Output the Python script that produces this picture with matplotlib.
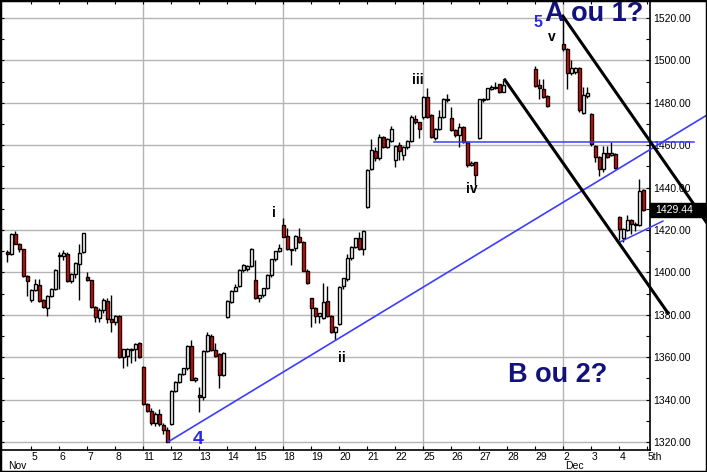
import numpy as np
import matplotlib.pyplot as plt
from matplotlib.patches import Rectangle
from matplotlib.transforms import blended_transform_factory

# %%
# Hourly candles, 7 slots per trading day (Nov 4 = day 0, Nov 28 holiday kept empty)
bar_idx = [1, 2, 3, 4, 5, 6,
           7, 8, 9, 10, 11, 12, 13,
           14, 15, 16, 17, 18, 19, 20,
           21, 22, 23, 24, 25, 26, 27,
           28, 29, 30, 31, 32, 33, 34,
           35, 36, 37, 38, 39, 40, 41,
           42, 43, 44, 45, 46, 47, 48,
           49, 50, 51, 52, 53, 54, 55,
           56, 57, 58, 59, 60, 61, 62,
           63, 64, 65, 66, 67, 68, 69,
           70, 71, 72, 73, 74, 75, 76,
           77, 78, 79, 80, 81, 82, 83,
           84, 85, 86, 87, 88, 89, 90,
           91, 92, 93, 94, 95, 96, 97,
           98, 99, 100, 101, 102, 103, 104,
           105, 106, 107, 108, 109, 110, 111,
           112, 113, 114, 115, 116, 117, 118,
           119, 120, 121, 122, 123, 124, 125,
           133, 134, 135, 136,
           140, 141, 142, 143, 144, 145, 146,
           147, 148, 149, 150, 151, 152, 153,
           154, 155, 156, 157, 158, 159, 160]
opens = [1409.8, 1408.5, 1417.9, 1413.6, 1410.8, 1398.3,
         1387.0, 1391.7, 1393.9, 1387.0, 1383.0, 1389.0, 1392.0,
         1407.6, 1407.8, 1408.7, 1396.0, 1399.2, 1404.0, 1409.5,
         1397.7, 1396.2, 1383.5, 1378.3, 1382.3, 1386.7, 1377.9,
         1376.8, 1379.6, 1360.3, 1360.5, 1363.5, 1363.9, 1366.5,
         1355.5, 1337.9, 1334.8, 1328.8, 1333.0, 1328.2, 1325.7,
         1328.5, 1344.1, 1348.5, 1352.1, 1354.7, 1365.4, 1349.2,
         1342.2, 1341.4, 1362.9, 1370.0, 1363.4, 1361.5, 1351.6,
         1378.8, 1386.2, 1391.4, 1393.6, 1401.0, 1401.5, 1403.0,
         1396.4, 1387.8, 1389.2, 1392.5, 1398.8, 1406.2, 1410.0,
         1422.4, 1417.2, 1410.6, 1411.4, 1416.5, 1414.2, 1400.8,
         1387.7, 1383.4, 1379.6, 1378.6, 1386.7, 1379.6, 1372.0,
         1375.5, 1393.6, 1396.7, 1406.6, 1412.1, 1416.0, 1410.9,
         1431.0, 1449.0, 1457.4, 1453.8, 1464.0, 1459.0, 1462.0,
         1453.0, 1460.1, 1455.5, 1459.0, 1462.0, 1472.4, 1470.8,
         1473.1, 1482.6, 1474.2, 1463.2, 1467.6, 1473.5, 1481.3,
         1472.7, 1467.2, 1464.8, 1468.7, 1461.7, 1450.7, 1451.9,
         1463.2, 1481.3, 1482.0, 1486.5, 1487.0, 1488.7, 1485.3,
         1495.8, 1488.4, 1486.5, 1483.2,
         1507.6, 1505.2, 1494.2, 1494.7, 1496.3, 1475.3, 1483.0,
         1474.6, 1459.8, 1454.3, 1448.8, 1456.5, 1455.5, 1455.8,
         1426.3, 1416.1, 1420.0, 1424.7, 1422.5, 1422.4, 1438.9]
highs = [1410.5, 1418.4, 1419.7, 1414.0, 1411.2, 1398.6,
         1392.3, 1396.9, 1396.9, 1387.5, 1389.5, 1392.5, 1401.5,
         1409.5, 1410.5, 1409.5, 1399.5, 1405.0, 1413.6, 1418.7,
         1400.1, 1396.5, 1384.0, 1383.0, 1387.8, 1388.0, 1389.3,
         1380.0, 1380.0, 1362.5, 1364.5, 1364.5, 1366.5, 1367.0,
         1356.0, 1338.5, 1336.0, 1334.0, 1335.5, 1329.0, 1327.0,
         1344.5, 1348.8, 1352.5, 1355.0, 1365.8, 1368.1, 1350.5,
         1346.1, 1363.4, 1372.0, 1371.0, 1366.5, 1362.0, 1362.2,
         1386.8, 1391.8, 1394.5, 1401.5, 1404.0, 1403.5, 1411.5,
         1405.8, 1389.5, 1392.8, 1399.0, 1406.5, 1410.3, 1413.2,
         1425.5, 1421.0, 1411.0, 1417.8, 1420.8, 1414.8, 1401.5,
         1387.8, 1383.6, 1380.8, 1394.8, 1393.6, 1380.0, 1374.8,
         1393.6, 1397.5, 1408.7, 1412.4, 1416.3, 1419.2, 1419.8,
         1448.8, 1462.9, 1459.3, 1465.3, 1464.5, 1463.5, 1469.0,
         1460.0, 1461.6, 1459.5, 1462.5, 1474.2, 1474.2, 1471.0,
         1483.0, 1486.8, 1474.5, 1468.0, 1476.6, 1482.2, 1484.0,
         1478.2, 1467.5, 1470.6, 1469.0, 1462.0, 1452.5, 1452.3,
         1482.0, 1482.3, 1487.0, 1488.2, 1490.0, 1489.0, 1490.8,
         1497.5, 1491.2, 1491.2, 1483.5,
         1521.0, 1505.7, 1500.2, 1497.0, 1497.0, 1487.3, 1487.3,
         1475.0, 1460.3, 1455.0, 1459.5, 1459.5, 1461.4, 1456.5,
         1426.8, 1421.0, 1427.3, 1425.2, 1424.0, 1444.0, 1439.3]
lows = [1404.7, 1408.0, 1413.2, 1409.5, 1398.0, 1389.0,
        1386.2, 1391.0, 1386.0, 1383.0, 1379.6, 1388.5, 1391.5,
        1392.0, 1406.0, 1395.5, 1395.0, 1397.2, 1387.0, 1409.0,
        1396.0, 1383.3, 1376.8, 1376.8, 1381.0, 1376.0, 1371.7,
        1375.0, 1359.5, 1354.7, 1356.0, 1357.1, 1358.0, 1359.6,
        1337.5, 1334.0, 1328.0, 1327.5, 1327.5, 1323.9, 1320.0,
        1328.0, 1343.5, 1348.0, 1351.5, 1354.0, 1349.0, 1348.5,
        1334.3, 1339.8, 1362.4, 1363.0, 1360.0, 1345.6, 1351.0,
        1378.3, 1385.5, 1391.0, 1393.0, 1400.0, 1400.5, 1402.5,
        1387.5, 1386.2, 1388.5, 1392.0, 1398.0, 1405.5, 1409.5,
        1416.5, 1410.5, 1403.5, 1410.0, 1414.0, 1400.5, 1394.5,
        1374.4, 1376.0, 1376.0, 1378.0, 1379.0, 1371.3, 1368.1,
        1375.0, 1392.0, 1396.0, 1406.0, 1411.5, 1410.5, 1408.2,
        1430.5, 1448.5, 1452.5, 1453.0, 1458.5, 1458.5, 1461.5,
        1449.9, 1453.0, 1453.0, 1458.0, 1461.5, 1470.0, 1463.2,
        1472.5, 1473.0, 1463.5, 1462.4, 1467.0, 1473.0, 1480.5,
        1466.5, 1464.0, 1459.0, 1461.0, 1449.9, 1450.0, 1441.2,
        1462.7, 1480.5, 1481.5, 1486.0, 1486.5, 1484.8, 1485.0,
        1487.5, 1481.9, 1482.5, 1478.2,
        1504.5, 1486.4, 1493.0, 1493.5, 1475.5, 1474.8, 1482.5,
        1459.8, 1452.0, 1445.5, 1447.5, 1454.0, 1455.0, 1448.6,
        1415.3, 1414.5, 1419.5, 1418.0, 1419.5, 1422.0, 1429.0]
closes = [1408.7, 1417.9, 1413.6, 1410.8, 1398.4, 1395.8,
          1391.7, 1394.4, 1386.5, 1383.5, 1389.0, 1392.0, 1401.1,
          1408.0, 1409.2, 1396.0, 1399.2, 1404.6, 1409.3, 1418.4,
          1396.2, 1383.5, 1379.1, 1382.3, 1387.0, 1378.0, 1376.6,
          1379.6, 1360.3, 1363.9, 1363.9, 1363.9, 1366.2, 1359.9,
          1337.9, 1334.8, 1328.8, 1333.0, 1328.5, 1325.7, 1320.2,
          1344.1, 1348.5, 1352.1, 1354.7, 1365.4, 1349.2, 1350.0,
          1341.1, 1362.9, 1370.5, 1363.4, 1360.6, 1351.6, 1361.8,
          1386.5, 1391.4, 1393.3, 1401.1, 1403.3, 1403.0, 1410.9,
          1387.8, 1389.2, 1392.5, 1398.8, 1406.2, 1410.1, 1411.3,
          1416.9, 1410.9, 1410.9, 1417.2, 1414.5, 1400.8, 1394.8,
          1383.4, 1379.6, 1380.7, 1386.2, 1379.6, 1372.0, 1374.4,
          1393.3, 1397.2, 1406.6, 1412.1, 1416.0, 1410.9, 1419.5,
          1448.3, 1457.7, 1453.8, 1464.0, 1459.0, 1463.0, 1467.6,
          1459.6, 1457.4, 1459.0, 1462.0, 1473.1, 1470.8, 1467.5,
          1482.6, 1473.5, 1464.0, 1467.6, 1473.5, 1481.8, 1481.8,
          1467.2, 1464.8, 1468.7, 1461.7, 1450.7, 1451.5, 1445.9,
          1481.6, 1481.8, 1486.8, 1487.3, 1487.6, 1485.3, 1488.4,
          1488.1, 1486.8, 1482.9, 1478.6,
          1505.2, 1494.2, 1496.6, 1496.6, 1476.6, 1483.6, 1484.4,
          1460.4, 1454.3, 1448.8, 1456.2, 1454.6, 1456.5, 1449.1,
          1420.3, 1420.3, 1424.7, 1422.8, 1423.0, 1438.4, 1429.44]

day_labels = ['5', '6', '7', '8', '11', '12', '13', '14', '15', '18', '19', '20',
              '21', '22', '25', '26', '27', '28', '29', '2', '3', '4', '5th']
monday_days = [5, 10, 15, 20]   # Nov 11, Nov 18, Nov 25, Dec 2 (day slots)
last_price = 1429.44

# hand drawn analysis lines (x in bar units, y in price)
trend_x, trend_y = [41.25, 175.9], [1320.1, 1474.2]
neck_x, neck_y = [107.6, 172.7], [1461.4, 1461.4]
base_x, base_y = [153.7, 164.9], [1413.9, 1424.2]
chan1_x, chan1_y = [125.4, 166.1], [1490.8, 1381.0]
chan2_x, chan2_y = [139.9, 175.9], [1520.9, 1423.3]

# wave labels: (text, x, y)
wave_black = [('i', 67.7, 1426.3), ('ii', 84.7, 1357.9), ('iii', 103.7, 1488.9),
              ('iv', 117.1, 1437.6), ('v', 137.05, 1509.2)]
wave_blue = [('4', 48.7, 1318.9, 14), ('5', 133.55, 1515.8, 11.5)]

# %%
plt.rcParams['font.family'] = ['Liberation Sans', 'DejaVu Sans']
fig = plt.figure(figsize=(7.07, 4.72), dpi=100)
ax = fig.add_axes([0, 22 / 472, 650 / 707, 450 / 472])
ax.set_xlim(-0.825, 161.675)
ax.set_ylim(1316.2, 1528.5)

x = np.array(bar_idx, dtype=float)
o = np.array(opens)
c = np.array(closes)
down = c < o
cols = np.where(down, '#ff0000', '#ffffff')
ax.vlines(x, lows, highs, color='k', lw=1.0, zorder=2)
ax.bar(x, np.maximum(np.abs(c - o), 0.4), bottom=np.minimum(o, c), width=0.85,
       color=cols, edgecolor='k', linewidth=1.0, zorder=3)

# grid
for v in range(1320, 1521, 20):
    ax.axhline(v, color='#b4b4b4', lw=1, zorder=0)
for d in monday_days:
    ax.axvline(d * 7, color='#b4b4b4', lw=1, zorder=0)

# axes / ticks
ax.set_xticks([7 * k for k in range(1, 24)], day_labels)
for lbl in ax.get_xticklabels():
    lbl.set_horizontalalignment('left')
ax.set_yticks(range(1320, 1521, 20), [f'{v:.2f}' for v in range(1320, 1521, 20)])
ax.set_yticks(range(1320, 1521, 10), minor=True)
ax.yaxis.tick_right()
ax.tick_params(axis='both', which='both', direction='in', labelsize=7.5,
               top=True, left=True, right=True, bottom=True, length=3, width=0.8)
ax.tick_params(axis='y', which='major', pad=2)
ax.tick_params(axis='x', pad=1.5)
for s in ax.spines.values():
    s.set_linewidth(1.2)

btr = blended_transform_factory(ax.transData, ax.transAxes)
ax.text(1.2, -0.036, 'Nov', transform=btr, fontsize=7.5, va='center', ha='left')
ax.text(140.4, -0.036, 'Dec', transform=btr, fontsize=7.5, va='center', ha='left')

# analysis lines
ax.plot(trend_x, trend_y, color='#3c3cff', lw=1.2, clip_on=False, zorder=5)
ax.plot(neck_x, neck_y, color='#3c3cff', lw=1.1, clip_on=False, zorder=5)
ax.plot(base_x, base_y, color='#3c3cff', lw=1.1, clip_on=False, zorder=5)
ax.plot(chan1_x, chan1_y, color='k', lw=2.2, clip_on=False, zorder=5)
ax.plot(chan2_x, chan2_y, color='k', lw=2.2, clip_on=False, zorder=5)

for t, tx, ty in wave_black:
    ax.text(tx, ty, t, fontsize=10, weight='bold', color='k', ha='center', va='baseline', zorder=6)
for t, tx, ty, fs in wave_blue:
    ax.text(tx, ty, t, fontsize=fs, weight='bold', color='#2828e6', ha='center', va='baseline', zorder=6)

ax.text(135.4, 1518.5, 'A ou 1?', fontsize=19.5, weight='bold', color='#12127a', va='baseline', zorder=6)
ax.text(126.2, 1348.4, 'B ou 2?', fontsize=19.5, weight='bold', color='#12127a', va='baseline', zorder=6)

# last price box
ftr = blended_transform_factory(fig.transFigure, ax.transData)
fig.patches.append(Rectangle((650 / 707, last_price - 3.3), 57 / 707, 6.6, transform=ftr,
                             facecolor='k', edgecolor='k', zorder=7))
fig.text(655 / 707, last_price, f'{last_price:.2f}', transform=ftr, fontsize=7.5,
         color='white', va='center', ha='left', zorder=8)

# outer frame
fig.patches.append(Rectangle((0, 0), 1, 1, transform=fig.transFigure, fill=False,
                             edgecolor='k', lw=2.5, zorder=10))

fig.savefig('out.png', dpi=100)
